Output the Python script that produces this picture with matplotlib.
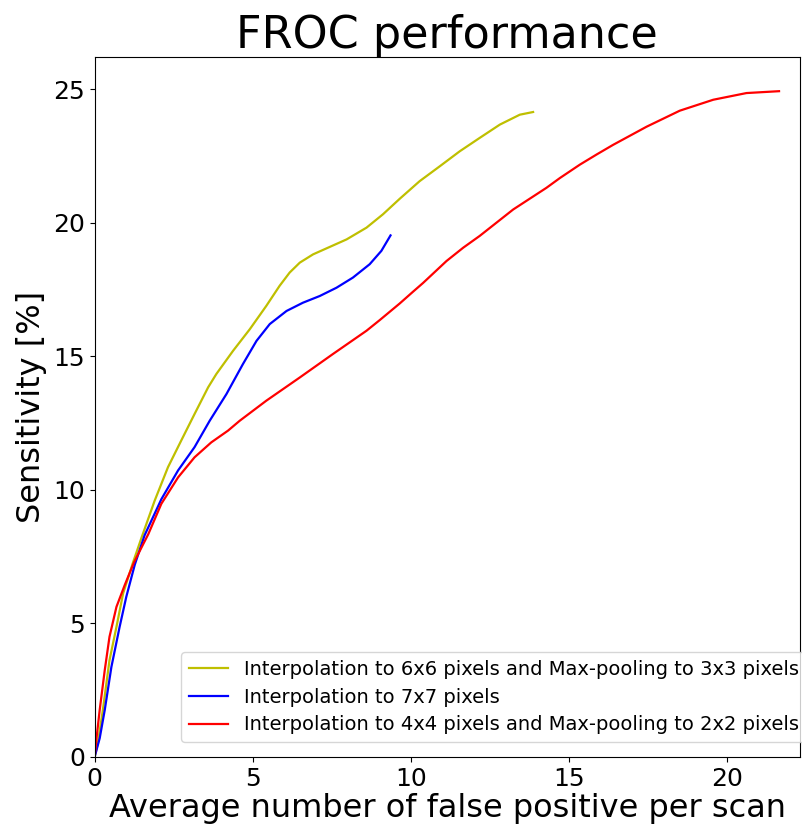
import matplotlib
matplotlib.use('Agg')
import matplotlib.pyplot as plt

# FROC curves
fp_6x6 = [0, 0.1, 0.26, 0.47, 0.69, 0.9, 1.21, 1.48, 1.9, 2.32, 2.74, 3.16, 3.59,
          3.85, 4.38, 4.91, 5.43, 5.85, 6.17, 6.49, 6.91, 7.44, 7.97, 8.6, 9.12,
          9.65, 10.28, 10.92, 11.55, 12.18, 12.82, 13.45, 13.87]
sens_6x6 = [0, 0.5, 1.76, 3.62, 4.87, 6.12, 7.27, 8.2, 9.6, 10.85, 11.85, 12.84, 13.84,
            14.34, 15.21, 16.02, 16.89, 17.64, 18.14, 18.51, 18.82, 19.1, 19.38, 19.82, 20.32,
            20.9, 21.56, 22.12, 22.68, 23.18, 23.68, 24.05, 24.15]

fp_7x7 = [0, 0.16, 0.32, 0.53, 0.79, 1.0, 1.27, 1.58, 2.11, 2.64, 3.16, 3.64, 4.17,
          4.69, 5.12, 5.54, 6.07, 6.59, 7.12, 7.65, 8.17, 8.7, 9.07, 9.36]
sens_7x7 = [0, 0.7, 1.76, 3.37, 4.87, 5.99, 7.2, 8.3, 9.65, 10.73, 11.6, 12.59, 13.59,
            14.71, 15.58, 16.21, 16.7, 17.01, 17.26, 17.57, 17.95, 18.45, 18.95, 19.53]

fp_4x4 = [0, 0.05, 0.16, 0.32, 0.47, 0.69, 0.95, 1.25, 1.7, 2.11, 2.64, 3.16, 3.69,
          4.22, 4.59, 5.43, 6.49, 7.54, 8.6, 9.02, 9.65, 10.07, 10.39, 11.13, 11.66,
          12.18, 13.24, 14.29, 14.72, 15.35, 15.88, 16.4, 17.46, 18.51, 19.57, 20.62, 21.65]
sens_4x4 = [0, 0.6, 1.76, 3.25, 4.5, 5.62, 6.43, 7.3, 8.35, 9.48, 10.47, 11.22, 11.78,
            12.22, 12.59, 13.34, 14.21, 15.09, 15.96, 16.36, 16.98, 17.42, 17.75, 18.57, 19.07,
            19.51, 20.5, 21.31, 21.68, 22.18, 22.56, 22.92, 23.6, 24.2, 24.61, 24.86, 24.93]

labels = ['Interpolation to 6x6 pixels and Max-pooling to 3x3 pixels',
          'Interpolation to 7x7 pixels',
          'Interpolation to 4x4 pixels and Max-pooling to 2x2 pixels']

fig = plt.figure(figsize=(8.02, 8.3), dpi=100)
ax = fig.add_axes([0.118, 0.088, 0.879, 0.843])

ax.plot(fp_6x6, sens_6x6, color='y', linewidth=1.6, label=labels[0])
ax.plot(fp_7x7, sens_7x7, color='b', linewidth=1.6, label=labels[1])
ax.plot(fp_4x4, sens_4x4, color='r', linewidth=1.6, label=labels[2])

ax.set_xlim(0, 22.3)
ax.set_ylim(0, 26.2)
ax.set_xticks([0, 5, 10, 15, 20])
ax.set_yticks([0, 5, 10, 15, 20, 25])
ax.tick_params(labelsize=18)

ax.set_title('FROC performance', fontsize=32)
ax.set_xlabel('Average number of false positive per scan', fontsize=23, labelpad=2)
ax.set_ylabel('Sensitivity [%]', fontsize=23)
# legend in the reference runs past the right edge of the figure
ax.legend(loc='lower left', bbox_to_anchor=(0.123, 0.021), borderaxespad=0,
          fontsize=14, labelspacing=0.45)

fig.savefig('out.png', dpi=100)
